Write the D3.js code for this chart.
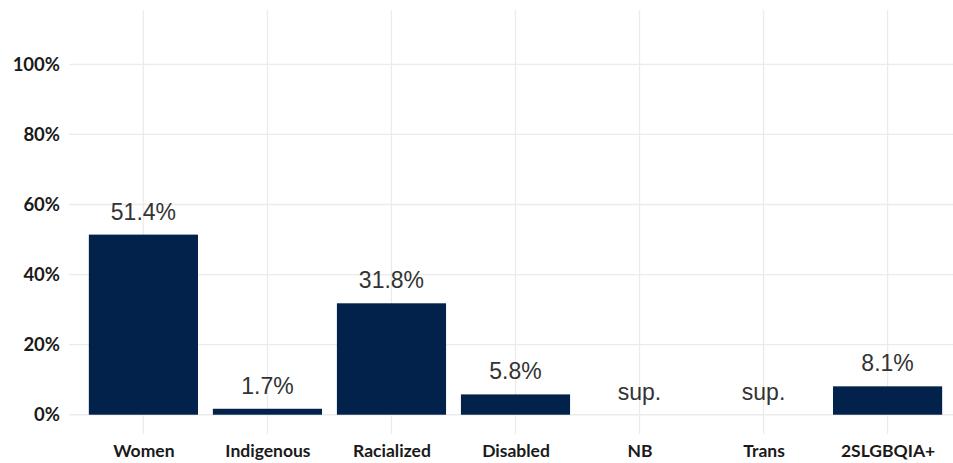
<!DOCTYPE html>
<html>
<head>
<meta charset="utf-8">
<script src="https://cdn.jsdelivr.net/npm/d3@7"></script>
<style>
  html, body { margin: 0; padding: 0; background: #ffffff; }
  svg { display: block; }
</style>
</head>
<body>
<svg id="chart" width="953" height="463"></svg>
<script>
// Share of each group, in percent; null = suppressed
const categories = ["Women", "Indigenous", "Racialized", "Disabled", "NB", "Trans", "2SLGBQIA+"];
const values = [51.4, 1.7, 31.8, 5.8, null, null, 8.1];
const valueLabels = ["51.4%", "1.7%", "31.8%", "5.8%", "sup.", "sup.", "8.1%"];
const yTicks = [0, 20, 40, 60, 80, 100];

const W = 953, H = 463;
const panel = { left: 69, right: 962, top: 10, bottom: 434 };

const svg = d3.select("#chart");

// y: limits 0..110 with 5% expansion on each side
const yMin = -5.5, yMax = 115.5;
const y = d3.scaleLinear().domain([yMin, yMax]).range([panel.bottom, panel.top]);

// x: discrete positions with 0.6-unit expansion on each side
const step = (panel.right - panel.left) / (categories.length - 1 + 1.2);
const x = d3.scalePoint().domain(categories)
  .range([panel.left + 0.6 * step, panel.right - 0.6 * step]);
const barW = step * 0.88;

svg.append("defs").append("clipPath").attr("id", "pclip")
  .append("rect").attr("x", panel.left).attr("y", panel.top)
  .attr("width", W - panel.left).attr("height", panel.bottom - panel.top);

const grid = svg.append("g").attr("clip-path", "url(#pclip)");

// horizontal grid
grid.selectAll("line.h").data(yTicks).join("line")
  .attr("class", "h")
  .attr("x1", panel.left).attr("x2", panel.right)
  .attr("y1", d => y(d)).attr("y2", d => y(d))
  .attr("stroke", "#ebebeb").attr("stroke-width", 1.3);

// vertical grid
grid.selectAll("line.v").data(categories).join("line")
  .attr("class", "v")
  .attr("x1", d => x(d)).attr("x2", d => x(d))
  .attr("y1", panel.top).attr("y2", panel.bottom)
  .attr("stroke", "#ebebeb").attr("stroke-width", 1.3);

// bars
const data = categories.map((c, i) => ({ c, v: values[i], label: valueLabels[i] }));
svg.append("g").selectAll("rect").data(data.filter(d => d.v != null)).join("rect")
  .attr("x", d => x(d.c) - barW / 2)
  .attr("width", barW)
  .attr("y", d => y(d.v))
  .attr("height", d => y(0) - y(d.v))
  .attr("fill", "#02214b");

// value labels above bars
svg.append("g").selectAll("text").data(data).join("text")
  .attr("x", d => x(d.c))
  .attr("y", d => y(d.v == null ? 0 : d.v) - 15)
  .attr("text-anchor", "middle")
  .attr("font-family", "'Liberation Sans', Arial, sans-serif")
  .attr("font-size", 23)
  .attr("fill", "#333333")
  .text(d => d.label);

// y axis labels
const yAxis = d3.axisLeft(y).tickValues(yTicks).tickFormat(d => d + "%").tickSize(0).tickPadding(9);
const gy = svg.append("g").attr("transform", `translate(${panel.left},0)`).call(yAxis);
gy.select(".domain").remove();
gy.selectAll("text")
  .attr("font-family", "Lato, sans-serif")
  .attr("font-weight", "bold")
  .attr("font-size", 18.5)
  .attr("fill", "#1a1a1a");

// x axis labels
const xAxis = d3.axisBottom(x).tickSize(0).tickPadding(11);
const gx = svg.append("g").attr("transform", `translate(0,${panel.bottom})`).call(xAxis);
gx.select(".domain").remove();
gx.selectAll("text")
  .attr("font-family", "Lato, sans-serif")
  .attr("font-weight", "bold")
  .attr("font-size", 17.5)
  .attr("fill", "#1a1a1a");
</script>
</body>
</html>
